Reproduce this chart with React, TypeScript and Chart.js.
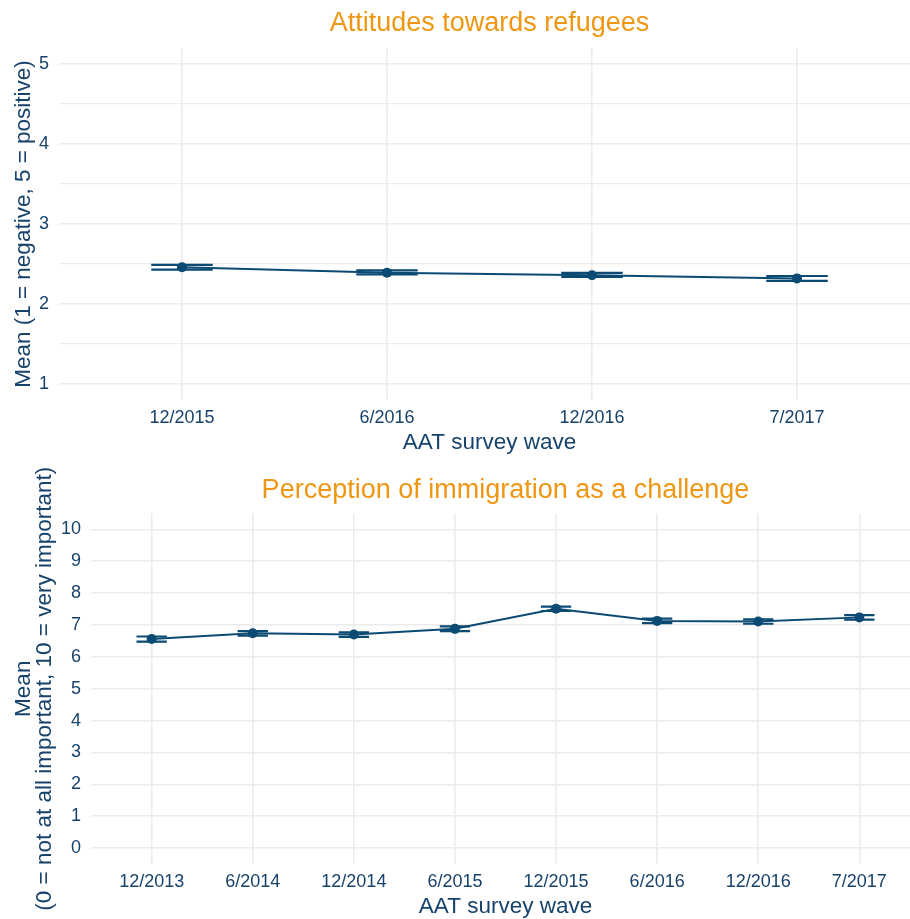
import React, { useEffect, useRef } from 'react';
import { Chart, registerables } from 'chart.js';

Chart.register(...registerables);

// ---- Data: top panel ----
const topCategories = ['12/2015', '6/2016', '12/2016', '7/2017'];
const topMeans = [2.46, 2.39, 2.36, 2.32];
const topLower = [2.43, 2.37, 2.34, 2.29];
const topUpper = [2.49, 2.42, 2.39, 2.35];
const topYTicks = [1, 1.5, 2, 2.5, 3, 3.5, 4, 4.5, 5];

// ---- Data: bottom panel ----
const bottomCategories = ['12/2013', '6/2014', '12/2014', '6/2015', '12/2015', '6/2016', '12/2016', '7/2017'];
const bottomMeans = [6.56, 6.74, 6.70, 6.88, 7.51, 7.13, 7.11, 7.24];
const bottomLower = [6.48, 6.67, 6.63, 6.81, 7.44, 7.06, 7.04, 7.17];
const bottomUpper = [6.64, 6.81, 6.77, 6.96, 7.58, 7.20, 7.18, 7.31];
const bottomYTicks = [0, 0.5, 1, 1.5, 2, 2.5, 3, 3.5, 4, 4.5, 5, 5.5, 6, 6.5, 7, 7.5, 8, 8.5, 9, 9.5, 10];

const NAVY = '#0b4a73';
const TEXT = '#17426b';
const ORANGE = '#ef9612';
const GRID = '#ebebeb';
const FONT = "'Liberation Sans', Arial, Helvetica, sans-serif";

const errorBarPlugin = {
  id: 'errorBars',
  beforeDatasetsDraw(chart: any, _args: any, opts: any) {
    const { lower, upper, halfWidth } = opts;
    const xs = chart.scales.x;
    const ys = chart.scales.y;
    const ctx = chart.ctx;
    ctx.save();
    ctx.strokeStyle = NAVY;
    ctx.lineWidth = 2.2;
    lower.forEach((lo: number, i: number) => {
      const x0 = xs.getPixelForValue(i - halfWidth);
      const x1 = xs.getPixelForValue(i + halfWidth);
      const xc = xs.getPixelForValue(i);
      const yl = ys.getPixelForValue(lo);
      const yu = ys.getPixelForValue(upper[i]);
      ctx.beginPath();
      ctx.moveTo(x0, yl);
      ctx.lineTo(x1, yl);
      ctx.moveTo(x0, yu);
      ctx.lineTo(x1, yu);
      ctx.moveTo(xc, yl);
      ctx.lineTo(xc, yu);
      ctx.stroke();
    });
    ctx.restore();
  },
};

type PanelProps = {
  title: string;
  categories: string[];
  means: number[];
  lower: number[];
  upper: number[];
  yMin: number;
  yMax: number;
  yTicks: number[];
  yTitle: string | string[];
  yTitleLineHeight: number;
  yTitlePadTop: number;
  yAxisWidth: number;
  titlePadTop: number;
  titlePadBottom: number;
  width: number;
  height: number;
  xAxisHeight: number;
};

function Panel(p: PanelProps) {
  const ref = useRef<HTMLCanvasElement>(null);
  useEffect(() => {
    if (!ref.current) return;
    const n = p.categories.length;
    const chart = new Chart(ref.current, {
      type: 'line',
      data: {
        datasets: [
          {
            data: p.means.map((m, i) => ({ x: i, y: m })),
            borderColor: NAVY,
            backgroundColor: NAVY,
            borderWidth: 2,
            pointRadius: 5,
            pointBackgroundColor: NAVY,
            pointBorderWidth: 0,
            tension: 0,
          },
        ],
      },
      options: {
        responsive: false,
        animation: false,
        devicePixelRatio: 1,
        layout: { padding: 0 },
        plugins: {
          legend: { display: false },
          tooltip: { enabled: false },
          title: {
            display: true,
            fullSize: false,
            text: p.title,
            color: ORANGE,
            font: { family: FONT, size: 27, weight: 'normal', lineHeight: 1.2 },
            padding: { top: p.titlePadTop, bottom: p.titlePadBottom },
          },
          errorBars: { lower: p.lower, upper: p.upper, halfWidth: 0.15 },
        } as any,
        scales: {
          x: {
            type: 'linear',
            min: -0.6,
            max: n - 1 + 0.6,
            afterBuildTicks: (axis: any) => {
              axis.ticks = p.categories.map((_, i) => ({ value: i }));
            },
            afterFit: (axis: any) => {
              axis.height = p.xAxisHeight;
            },
            ticks: {
              autoSkip: false,
              maxRotation: 0,
              padding: 7.5,
              color: TEXT,
              font: { family: FONT, size: 18 },
              callback: (v: any) => p.categories[v] ?? '',
            },
            grid: { color: GRID, lineWidth: 1.6, drawTicks: false },
            border: { display: false },
            title: {
              display: true,
              text: 'AAT survey wave',
              color: TEXT,
              font: { family: FONT, size: 22.5, lineHeight: 1 },
              padding: { top: 0, bottom: 0.5 },
            },
          },
          y: {
            type: 'linear',
            min: p.yMin,
            max: p.yMax,
            afterBuildTicks: (axis: any) => {
              axis.ticks = p.yTicks.map((v) => ({ value: v }));
            },
            afterFit: (axis: any) => {
              axis.width = p.yAxisWidth;
            },
            ticks: {
              padding: 10,
              color: TEXT,
              font: { family: FONT, size: 18 },
              callback: (v: any) => (Number.isInteger(v) ? String(v) : ''),
            },
            grid: {
              color: GRID,
              lineWidth: (c: any) => (c.tick && Number.isInteger(c.tick.value) ? 1.6 : 1.3),
              drawTicks: false,
            },
            border: { display: false },
            title: {
              display: true,
              text: p.yTitle,
              color: TEXT,
              font: { family: FONT, size: 22.5, lineHeight: p.yTitleLineHeight },
              padding: { top: p.yTitlePadTop, bottom: 0 },
            },
          },
        },
      } as any,
      plugins: [errorBarPlugin as any],
    });
    return () => chart.destroy();
  }, []);
  return (
    <canvas
      ref={ref}
      width={p.width}
      height={p.height}
      style={{ display: 'block', width: p.width, height: p.height }}
    />
  );
}

export default function App() {
  return (
    <div
      style={{
        position: 'fixed',
        left: 0,
        top: 0,
        width: 910,
        height: 919,
        overflow: 'hidden',
        background: '#ffffff',
      }}
    >
      <Panel
        title="Attitudes towards refugees"
        categories={topCategories}
        means={topMeans}
        lower={topLower}
        upper={topUpper}
        yMin={0.8}
        yMax={5.2}
        yTicks={topYTicks}
        yTitle="Mean (1 = negative, 5 = positive)"
        yTitleLineHeight={1}
        yTitlePadTop={12.5}
        yAxisWidth={59}
        titlePadTop={7.8}
        titlePadBottom={7.8}
        width={925}
        height={455}
        xAxisHeight={55}
      />
      <Panel
        title="Perception of immigration as a challenge"
        categories={bottomCategories}
        means={bottomMeans}
        lower={bottomLower}
        upper={bottomUpper}
        yMin={-0.5}
        yMax={10.5}
        yTicks={bottomYTicks}
        yTitle={['Mean', '(0 = not at all important, 10 = very important)']}
        yTitleLineHeight={0.95}
        yTitlePadTop={12.8}
        yAxisWidth={91}
        titlePadTop={19.3}
        titlePadBottom={6.8}
        width={925}
        height={464}
        xAxisHeight={55}
      />
    </div>
  );
}
